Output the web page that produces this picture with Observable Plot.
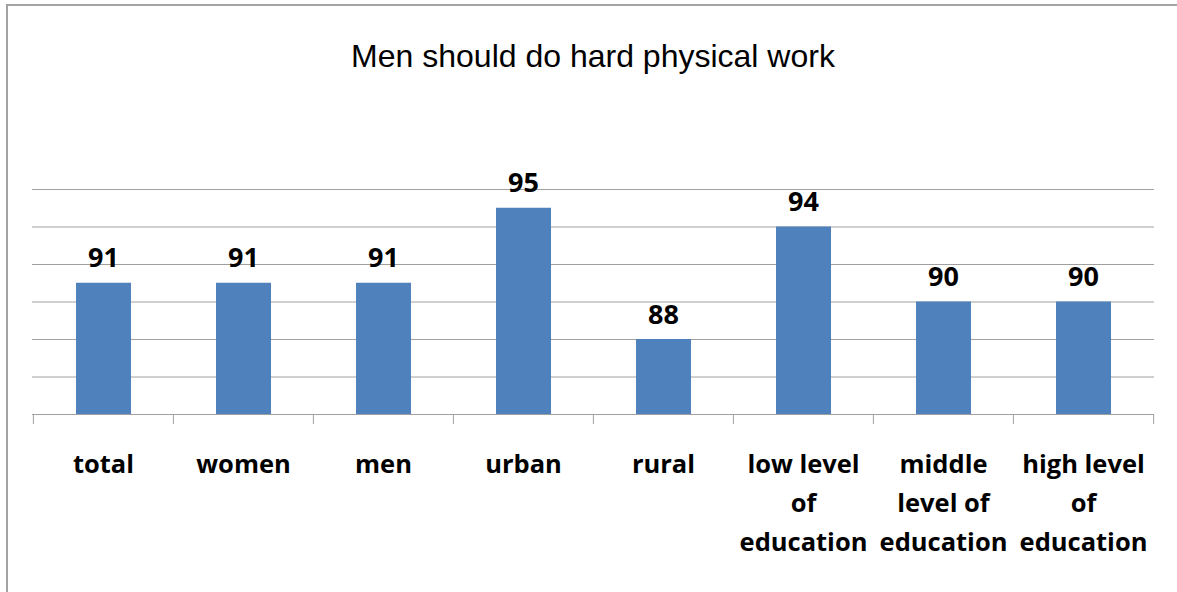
<!DOCTYPE html>
<html><head><meta charset="utf-8">
<script src="https://cdn.jsdelivr.net/npm/d3@7"></script>
<script src="https://cdn.jsdelivr.net/npm/@observablehq/plot@0.6"></script>
<style>
html,body{margin:0;padding:0;background:#fff;}
#wrap{position:relative;width:1177px;height:592px;overflow:hidden;}
#frame{position:absolute;left:6px;top:4px;width:1300px;height:700px;border-left:2px solid #a3a3a3;border-top:2px solid #a3a3a3;pointer-events:none;}
#title{position:absolute;left:32px;width:1122px;top:40px;line-height:32px;text-align:center;font-family:"Liberation Sans",Arial,sans-serif;font-size:32px;color:#000;}
#chart{position:absolute;left:0;top:0;}
</style>
</head><body>
<div id="wrap">
  <div id="chart"></div>
  <div id="frame"></div>
  <div id="title">Men should do hard physical work</div>
</div>
<script>
const categories = ["total","women","men","urban","rural","low level of education","middle level of education","high level of education"];
const tickLabels = ["total","women","men","urban","rural","low level\nof\neducation","middle\nlevel of\neducation","high level\nof\neducation"];
const values = [91,91,91,95,88,94,90,90];
const yTicks = [84,86,88,90,92,94,96];

const baseValue = yTicks[0];
const data = categories.map((c,i)=>({category:c, value:values[i], label:tickLabels[i]}));
const W = 1177, mL = 32, mR = 23;
const step = (W - mL - mR) / categories.length;
const catFont = 25.5, catLH = 39 / catFont;

const chart = Plot.plot({
  width: W,
  height: 592,
  marginLeft: mL,
  marginRight: mR,
  marginTop: 189,
  marginBottom: 178,
  style: {fontFamily: "'Open Sans', sans-serif", background: "transparent"},
  x: {type: "band", domain: categories, padding: 0, axis: null},
  y: {domain: [yTicks[0], yTicks[yTicks.length-1]], axis: null},
  marks: [
    Plot.ruleY(yTicks, {stroke: "#a0a0a0", strokeWidth: 1}),
    Plot.barY(data, {x: "category", y1: baseValue, y2: "value", fill: "#4f81bd", insetLeft: 43, insetRight: 42}),
    Plot.ruleX(categories, {x: d => d, dx: -step/2, y1: baseValue, y2: baseValue - 0.53, stroke: "#a0a0a0"}),
    Plot.ruleX(categories.slice(-1), {x: d => d, dx: step/2, y1: baseValue, y2: baseValue - 0.53, stroke: "#a0a0a0"}),
    Plot.text(data, {x: "category", y: "value", text: d => String(d.value), dy: -16, lineAnchor: "bottom", fontSize: 27, fontWeight: "bold", fill: "#000"}),
    Plot.text(data, {x: "category", y: baseValue, text: "label", lineAnchor: "top", dy: 59 - 0.71 * catLH * catFont, lineHeight: catLH, fontSize: catFont, fontWeight: "bold", fill: "#000"})
  ]
});
document.getElementById("chart").appendChild(chart);
</script>
</body></html>
